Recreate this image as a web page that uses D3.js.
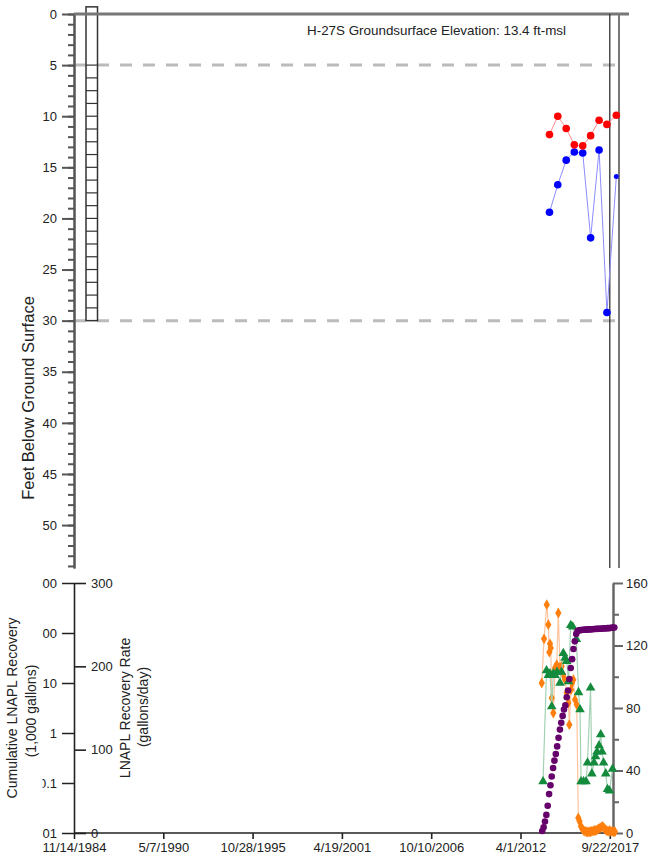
<!DOCTYPE html>
<html>
<head>
<meta charset="utf-8">
<script src="https://cdnjs.cloudflare.com/ajax/libs/d3/7.8.5/d3.min.js"></script>
<style>
  body { margin: 0; background: #fff; }
  svg { display: block; }
</style>
</head>
<body>
<div id="chart"></div>
<script>
// ---- well gauging (top panel), feet below ground surface
var gaugeDates = ["2014-01-10", "2014-07-15", "2015-01-20", "2015-07-20", "2016-01-25",
                  "2016-07-20", "2017-01-25", "2017-07-20", "2018-02-15"];
var lnaplDepth = [11.8, 10.0, 11.2, 12.8, 12.9, 11.9, 10.4, 10.8, 9.9];
var waterDepth = [19.4, 16.7, 14.3, 13.5, 13.6, 21.9, 13.3, 29.2, 15.9];

// ---- cumulative LNAPL recovery (1,000 gallons), log axis
var cumDates = ["2013-08-01", "2013-09-01", "2013-10-01", "2013-11-01", "2013-12-01",
  "2014-01-01", "2014-02-01", "2014-03-01", "2014-04-01", "2014-05-01", "2014-06-01",
  "2014-07-01", "2014-08-01", "2014-09-01", "2014-10-01", "2014-11-01", "2014-12-01",
  "2015-01-01", "2015-02-01", "2015-03-01", "2015-04-01", "2015-05-01", "2015-06-01",
  "2015-07-01", "2015-08-01", "2015-09-01", "2015-10-01", "2015-11-01", "2015-12-01",
  "2016-01-01", "2016-02-01", "2016-03-01", "2016-04-01", "2016-05-01", "2016-06-01",
  "2016-07-01", "2016-08-01", "2016-09-01", "2016-10-01", "2016-11-01", "2016-12-01",
  "2017-01-01", "2017-02-01", "2017-03-01", "2017-04-01", "2017-05-01", "2017-06-01",
  "2017-07-01", "2017-08-01", "2017-09-01", "2017-10-01", "2017-11-01", "2017-12-01",
  "2018-01-01"];
var cumRecovery = [0.011, 0.013, 0.017, 0.023, 0.035, 0.06, 0.09, 0.135, 0.2, 0.28,
  0.38, 0.54, 0.8, 1.17, 1.6, 2.2, 2.95, 3.6, 5.2, 7.1, 12, 20, 30, 48, 68, 95, 110,
  113, 114, 115, 116, 116, 117, 117, 118, 118, 119, 119, 120, 120, 121, 121, 122,
  122, 123, 123, 124, 124, 125, 125, 126, 127, 128, 129];

// ---- LNAPL recovery rate (gallons/day)
var rateDates = ["2013-07-21", "2013-09-10", "2013-11-10", "2013-12-15", "2014-01-07",
  "2014-01-22", "2014-02-07", "2014-03-02", "2014-04-06", "2014-05-14", "2014-06-21",
  "2014-07-27", "2014-09-03", "2014-10-12", "2014-11-10", "2014-12-24", "2015-02-01",
  "2015-03-08", "2015-03-31", "2015-05-08", "2015-05-30", "2015-06-28", "2015-08-05",
  "2015-09-13", "2015-10-18", "2015-11-15", "2015-12-15", "2016-01-15", "2016-02-15",
  "2016-03-15", "2016-04-15", "2016-05-15", "2016-06-15", "2016-07-15", "2016-08-15",
  "2016-09-15", "2016-10-15", "2016-11-15", "2016-12-15", "2017-01-15", "2017-02-15",
  "2017-03-15", "2017-04-15", "2017-05-15", "2017-06-15", "2017-07-15", "2017-08-15",
  "2017-09-15", "2017-10-15", "2017-11-15", "2017-12-15", "2018-01-15"];
var rateValues = [180, 233, 274, 250, 217, 227, 222, 162, 144, 198, 202, 264, 199, 200,
  190, 184, 168, 156, 130, 172, 180, 184, 160, 154, 18, 14, 8, 5, 3, 2, 1.5, 1, 1.5,
  1.5, 2, 2.5, 3, 3, 4, 5, 6, 7, 8, 6, 4, 3, 2, 3, 2, 2, 1.5, 1.5];

// ---- right axis series (green triangles)
var greenDates = ["2013-08-19", "2013-11-05", "2013-12-15", "2014-01-22", "2014-03-02",
  "2014-04-06", "2014-05-14", "2014-06-28", "2014-09-03", "2014-10-07", "2014-11-16",
  "2014-12-24", "2015-02-01", "2015-03-13", "2015-05-01", "2015-06-15", "2015-09-04",
  "2015-10-23", "2015-11-25", "2015-12-18", "2016-02-12", "2016-04-08", "2016-05-11",
  "2016-07-18", "2016-08-16", "2016-10-04", "2016-11-07", "2016-12-10", "2017-01-24",
  "2017-03-03", "2017-04-01", "2017-05-05", "2017-06-23", "2017-08-02", "2017-09-16",
  "2017-11-22"];
var greenValues = [33, 104, 101, 102, 81, 102, 101, 103, 96, 103, 115, 112, 110, 97,
  133, 132, 124, 90, 79, 33, 33, 33, 45, 93, 38, 45, 49, 52, 56, 63, 52, 45, 38, 28,
  27, 41];

// ---- ticks / labels
var dateTicks = ["1984-11-14", "1990-05-07", "1995-10-28", "2001-04-19", "2006-10-10",
                 "2012-04-01", "2017-09-22"];
var dateTickLabels = ["11/14/1984", "5/7/1990", "10/28/1995", "4/19/2001", "10/10/2006",
                      "4/1/2012", "9/22/2017"];
var depthTicks = [0, 5, 10, 15, 20, 25, 30, 35, 40, 45, 50];
var screenLimits = [5, 30];
var cumTicks = [0.01, 0.1, 1, 10, 100, 1000];
var rateTicks = [0, 100, 200, 300];
var rightTicks = [0, 40, 80, 120, 160];
var rightMinorTicks = [20, 60, 100, 140];
var wellTitle = "H-27S Groundsurface Elevation: 13.4 ft-msl";

var FONT = "'Liberation Sans', Arial, sans-serif";
var parse = d3.timeParse("%Y-%m-%d");

var svg = d3.select("#chart").append("svg")
    .attr("width", 655)
    .attr("height", 865)
    .style("font-family", FONT);

var x = d3.scaleTime()
    .domain([parse("1984-11-14"), parse("2017-09-22")])
    .range([74, 609.8]);

function styleAxis(g, color, width) {
  g.attr("font-family", FONT).attr("font-size", 13);
  g.select(".domain").attr("stroke", color).attr("stroke-width", width);
  g.selectAll(".tick line").attr("stroke", color).attr("stroke-width", width);
  g.selectAll(".tick text").attr("fill", "#222");
}

//==================== top panel ====================
var yDepth = d3.scaleLinear().domain([0, 54.2]).range([14, 568]);
var topg = svg.append("g").attr("class", "top");

topg.selectAll(".screen")
    .data(screenLimits)
  .enter().append("line")
    .attr("class", "screen")
    .attr("x1", 74).attr("x2", 619)
    .attr("y1", function(d) { return yDepth(d); })
    .attr("y2", function(d) { return yDepth(d); })
    .attr("stroke", "#bbb")
    .attr("stroke-width", 3)
    .attr("stroke-dasharray", "12,11");

// well casing / screen
topg.append("rect")
    .attr("x", 86).attr("width", 11.5)
    .attr("y", yDepth(-0.7))
    .attr("height", yDepth(screenLimits[1]) - yDepth(-0.7))
    .attr("fill", "#fff")
    .attr("stroke", "#333")
    .attr("stroke-width", 1.5);
topg.selectAll(".slot")
    .data(d3.range(screenLimits[0], screenLimits[1], 1.25))
  .enter().append("line")
    .attr("class", "slot")
    .attr("x1", 86).attr("x2", 97.5)
    .attr("y1", function(d) { return yDepth(d); })
    .attr("y2", function(d) { return yDepth(d); })
    .attr("stroke", "#333")
    .attr("stroke-width", 1.2);

// minor + major depth ticks
var minorAxis = topg.append("g")
    .attr("transform", "translate(74,0)")
    .call(d3.axisLeft(yDepth).tickValues(d3.range(0, 55, 1)).tickSize(6)
      .tickSizeOuter(0).tickFormat(""));
styleAxis(minorAxis, "#555", 2);
var depthAxis = topg.append("g")
    .attr("transform", "translate(74,0)")
    .call(d3.axisLeft(yDepth).tickValues(depthTicks).tickSize(12)
      .tickSizeOuter(0).tickPadding(5));
styleAxis(depthAxis, "#555", 2);

// ground surface line + right borders
topg.append("line")
    .attr("x1", 74).attr("x2", 629).attr("y1", 14).attr("y2", 14)
    .attr("stroke", "#777").attr("stroke-width", 3);
topg.append("line")
    .attr("x1", x(parse("2017-09-22"))).attr("x2", x(parse("2017-09-22")))
    .attr("y1", 14).attr("y2", 568)
    .attr("stroke", "#222").attr("stroke-width", 1.2);
topg.append("line")
    .attr("x1", 619).attr("x2", 619).attr("y1", 14).attr("y2", 568)
    .attr("stroke", "#777").attr("stroke-width", 2);

topg.append("text")
    .attr("x", 307).attr("y", 35)
    .attr("font-size", 13.4).attr("fill", "#222")
    .text(wellTitle);
topg.append("text")
    .attr("transform", "translate(28,398) rotate(-90)")
    .attr("text-anchor", "middle").attr("dy", "0.35em")
    .attr("font-size", 16.5).attr("fill", "#222")
    .text("Feet Below Ground Surface");

var depthLine = d3.line()
    .x(function(d) { return x(d.date); })
    .y(function(d) { return yDepth(d.v); });

function gaugeRows(values) {
  return values.map(function(v, i) { return {date: parse(gaugeDates[i]), v: v}; });
}
var depthSeries = [
  {rows: gaugeRows(waterDepth), color: "#0000ff", line: "#8c8cff"},
  {rows: gaugeRows(lnaplDepth), color: "#ff0000", line: "#ff8c8c"}
];
depthSeries.forEach(function(s) {
  topg.append("path")
      .datum(s.rows)
      .attr("d", depthLine)
      .attr("fill", "none")
      .attr("stroke", s.line)
      .attr("stroke-width", 1);
  topg.selectAll(null)
      .data(s.rows)
    .enter().append("circle")
      .attr("cx", function(d) { return x(d.date); })
      .attr("cy", function(d) { return yDepth(d.v); })
      .attr("r", function(d, i) {
        return (s.color === "#0000ff" && i === s.rows.length - 1) ? 2.5 : 3.8;
      })
      .attr("fill", s.color);
});

//==================== bottom panel ====================
var yCum = d3.scaleLog().domain([0.01, 1000]).range([833, 583]);
var yRate = d3.scaleLinear().domain([0, 300]).range([833, 583]);
var yRight = d3.scaleLinear().domain([0, 160]).range([833, 583]);
var bot = svg.append("g").attr("class", "bottom");

// the cumulative labels are cut off on the left in the original
bot.append("clipPath").attr("id", "cumclip")
  .append("rect").attr("x", 42.5).attr("y", 570).attr("width", 40).attr("height", 280);

var cumWrap = bot.append("g").attr("clip-path", "url(#cumclip)");
var cumAxis = cumWrap.append("g")
    .attr("transform", "translate(74,0)")
    .call(d3.axisLeft(yCum).tickValues(cumTicks).tickSize(12).tickSizeOuter(0)
      .tickPadding(5).tickFormat(d3.format("~g")));
styleAxis(cumAxis, "#222", 1.6);

var rateAxis = bot.append("g")
    .attr("transform", "translate(74,0)")
    .call(d3.axisRight(yRate).tickValues(rateTicks).tickSize(12).tickSizeOuter(0)
      .tickPadding(5));
styleAxis(rateAxis, "#222", 1.6);
rateAxis.select(".domain").remove();

var xAxis = bot.append("g")
    .attr("transform", "translate(0,833)")
    .call(d3.axisBottom(x).tickValues(dateTicks.map(parse)).tickSize(6)
      .tickPadding(4)
      .tickFormat(function(d, i) { return dateTickLabels[i]; }));
styleAxis(xAxis, "#222", 1.6);
xAxis.select(".domain").remove();
bot.append("line")
    .attr("x1", 74).attr("x2", 613).attr("y1", 833).attr("y2", 833)
    .attr("stroke", "#222").attr("stroke-width", 1.6);

var rightMinor = bot.append("g")
    .attr("transform", "translate(613,0)")
    .call(d3.axisRight(yRight).tickValues(rightMinorTicks).tickSize(6)
      .tickSizeOuter(0).tickFormat(""));
styleAxis(rightMinor, "#666", 2);
var rightAxis = bot.append("g")
    .attr("transform", "translate(613,0)")
    .call(d3.axisRight(yRight).tickValues(rightTicks).tickSize(10)
      .tickSizeOuter(0).tickPadding(3));
styleAxis(rightAxis, "#666", 2);

var titles = [
  {text: "Cumulative LNAPL Recovery", x: 12, y: 708},
  {text: "(1,000 gallons)", x: 31, y: 711},
  {text: "LNAPL Recovery Rate", x: 125, y: 708},
  {text: "(gallons/day)", x: 143, y: 707}
];
bot.selectAll(".ytitle")
    .data(titles)
  .enter().append("text")
    .attr("class", "ytitle")
    .attr("transform", function(d) { return "translate(" + d.x + "," + d.y + ") rotate(-90)"; })
    .attr("text-anchor", "middle").attr("dy", "0.35em")
    .attr("font-size", 14).attr("fill", "#222")
    .text(function(d) { return d.text; });

function rows(dates, values) {
  return values.map(function(v, i) { return {date: parse(dates[i]), v: v}; });
}
var rateRows = rows(rateDates, rateValues);
var greenRows = rows(greenDates, greenValues);
var cumRows = rows(cumDates, cumRecovery);

// orange rate
bot.append("path")
    .datum(rateRows)
    .attr("d", d3.line().x(function(d) { return x(d.date); }).y(function(d) { return yRate(d.v); }))
    .attr("fill", "none").attr("stroke", "#ffc49e").attr("stroke-width", 1.2);
bot.selectAll(".rate")
    .data(rateRows)
  .enter().append("path")
    .attr("class", "rate")
    .attr("transform", function(d) { return "translate(" + x(d.date) + "," + yRate(d.v) + ")"; })
    .attr("d", d3.symbol().type(d3.symbolDiamond).size(34))
    .attr("fill", "#ff7f0e");

// green triangles
bot.append("path")
    .datum(greenRows)
    .attr("d", d3.line().x(function(d) { return x(d.date); }).y(function(d) { return yRight(d.v); }))
    .attr("fill", "none").attr("stroke", "#a3d2b3").attr("stroke-width", 1.2);
bot.selectAll(".green")
    .data(greenRows)
  .enter().append("path")
    .attr("class", "green")
    .attr("transform", function(d) { return "translate(" + x(d.date) + "," + yRight(d.v) + ")"; })
    .attr("d", d3.symbol().type(d3.symbolTriangle).size(40))
    .attr("fill", "#138a3c");

// purple cumulative
bot.selectAll(".cum")
    .data(cumRows)
  .enter().append("circle")
    .attr("class", "cum")
    .attr("cx", function(d) { return x(d.date); })
    .attr("cy", function(d) { return yCum(d.v); })
    .attr("r", 3.3)
    .attr("fill", "#66006b");
</script>
</body>
</html>
